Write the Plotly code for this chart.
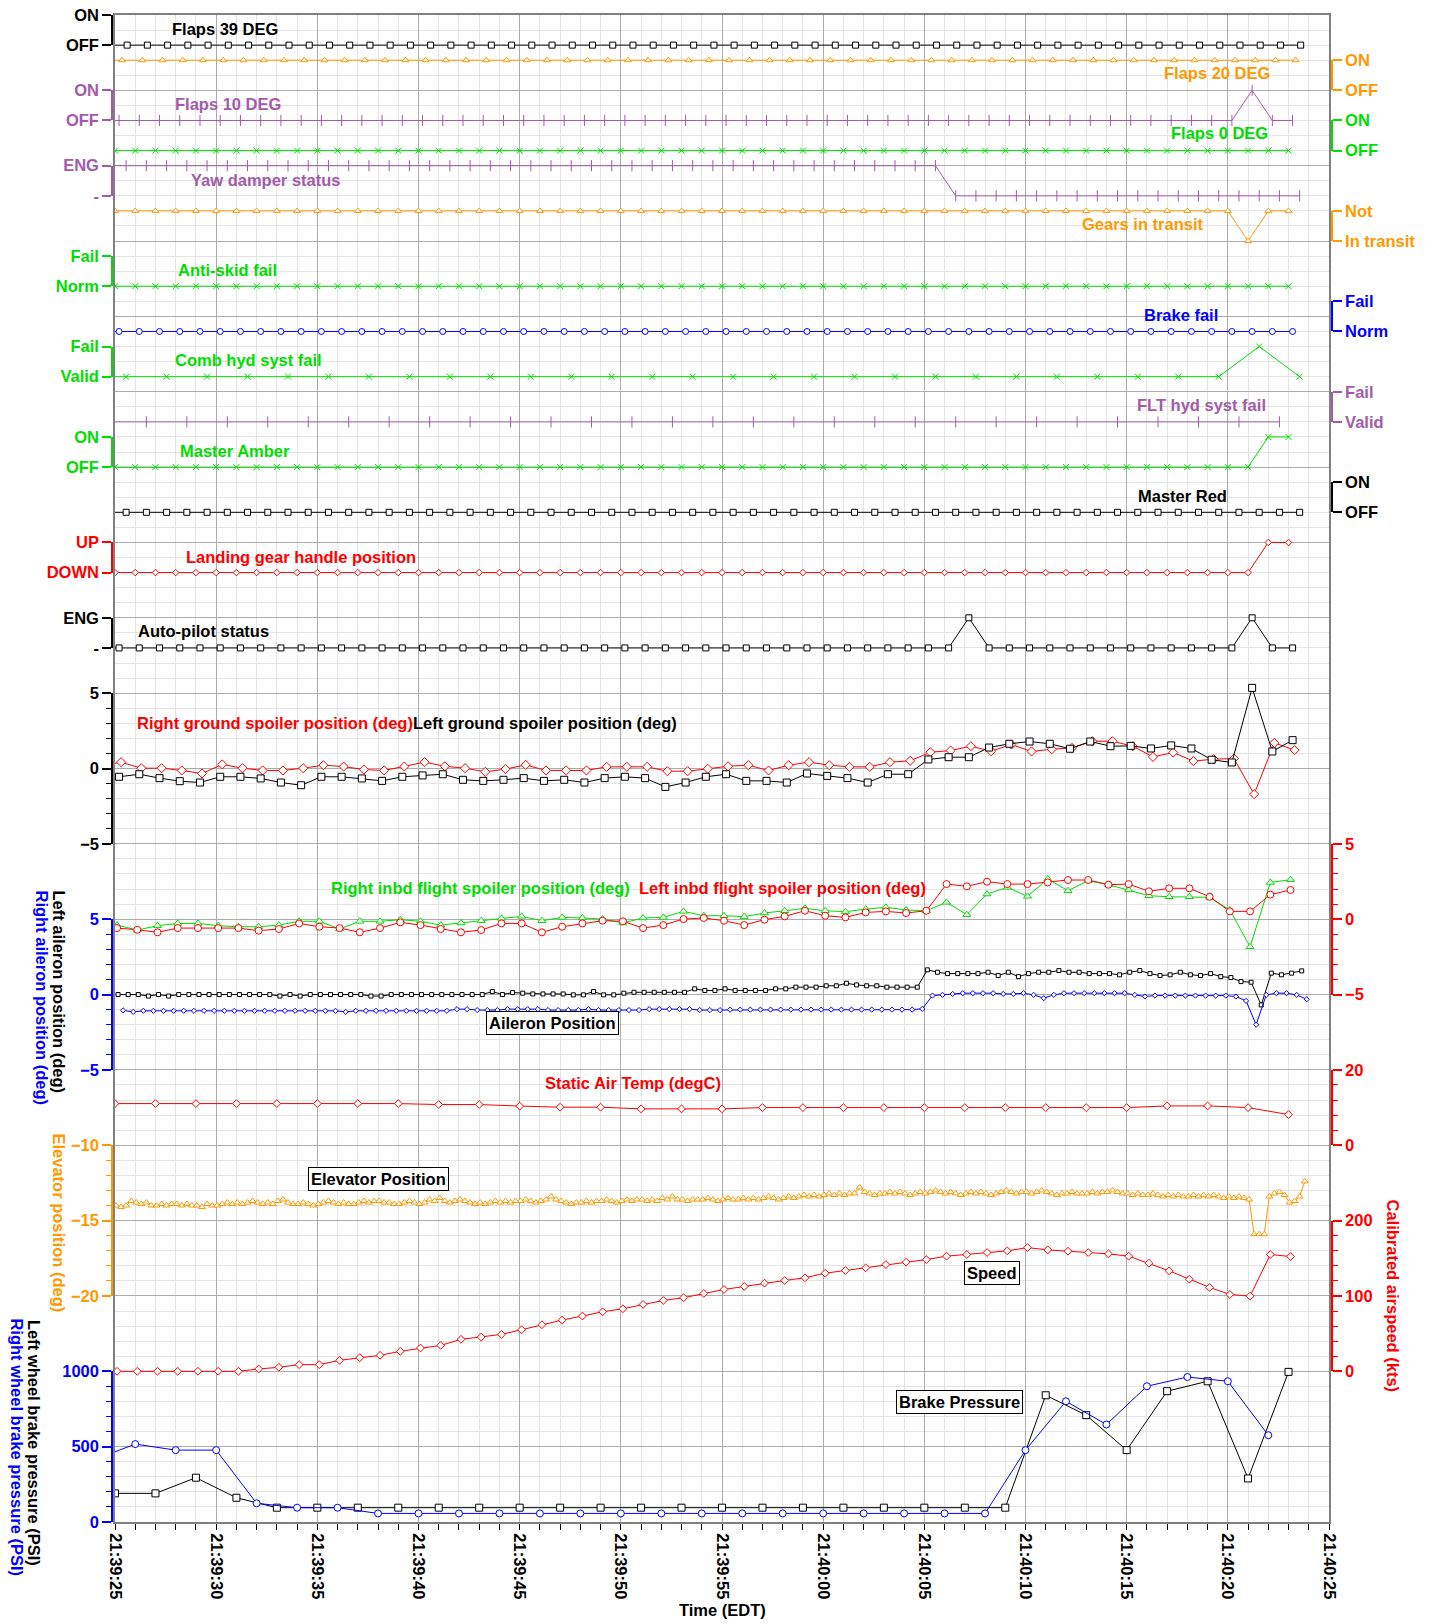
import plotly.graph_objects as go

# ------------------------------------------------------------------ data
TIME_TICKS = [0, 5, 10, 15, 20, 25, 30, 35, 40, 45, 50, 55, 60]
TIME_LABELS = ["21:39:25", "21:39:30", "21:39:35", "21:39:40", "21:39:45", "21:39:50",
               "21:39:55", "21:40:00", "21:40:05", "21:40:10", "21:40:15", "21:40:20", "21:40:25"]


def bits(s):
    return [int(c) for c in s if c in "01"]


def times(t0, n, dt=1.0):
    return [round(t0 + i * dt, 3) for i in range(n)]


# discrete signals (0 = lower state, 1 = upper state)
FLAPS39 = bits("0000000000 0000000000 0000000000 0000000000 0000000000 0000000000")
FLAPS20 = bits("1111111111 1111111111 1111111111 1111111111 1111111111 1111111111")
FLAPS10 = bits("0000000000 0000000000 0000000000 0000000000 0000000000 0000000100")
FLAPS0 = bits("0000000000 0000000000 0000000000 0000000000 0000000000 000000000")
YAW_DAMPER = bits("1111111111 1111111111 1111111111 1111111111 1100000000 0000000000")
GEARS_TRANSIT = bits("1111111111 1111111111 1111111111 1111111111 1111111111 111111011")
ANTI_SKID = bits("0000000000 0000000000 0000000000 0000000000 0000000000 000000000")
BRAKE_FAIL = bits("0000000000 0000000000 0000000000 0000000000 0000000000 0000000000")
COMB_HYD = bits("0000000000 0000000000 0000000001 0")
FLT_HYD = bits("0000000000 0000000000 0000000000")
MASTER_AMBER = bits("0000000000 0000000000 0000000000 0000000000 0000000000 000000011")
MASTER_RED = bits("0000000000 0000000000 0000000000 0000000000 0000000000 0000000000")
LANDING_GEAR = bits("0000000000 0000000000 0000000000 0000000000 0000000000 000000011")
AUTO_PILOT = bits("0000000000 0000000000 0000000000 0000000000 0001000000 0000000100")

# ground spoilers (deg)
R_GND_SPOILER = [0.15, 0.42, 0.02, 0.02, -0.13, -0.33, 0.27, 0.02, -0.13, -0.13, 0.02, 0.22, 0.13, -0.07,
                 -0.13, 0.13, 0.42, 0.15, 0.02, -0.22, -0.04, 0.24, -0.13, -0.13, -0.13, 0.11, 0.11, 0.11,
                 -0.18, -0.18, -0.02, 0.15, 0.22, -0.13, 0.22, 0.42, 0.22, 0.11, 0.11, 0.42, 0.51, 1.08,
                 1.19, 1.48, 1.15, 1.59, 1.13, 1.28, 1.37, 1.81, 1.81, 1.48, 0.77, 1.06, 0.49, 0.62, 0.66,
                 -1.70, 1.70, 1.22]
L_GND_SPOILER = [-0.45, -0.55, -0.38, -0.64, -0.84, -0.93, -0.55, -0.55, -0.66, -0.93, -1.11, -0.55, -0.55,
                 -0.66, -0.82, -0.55, -0.46, -0.38, -0.75, -0.82, -0.75, -0.64, -0.82, -0.75, -0.93, -0.64,
                 -0.55, -0.64, -1.22, -0.93, -0.55, -0.38, -0.82, -0.82, -0.93, -0.33, -0.49, -0.64, -0.93,
                 -0.38, -0.38, 0.60, 0.75, 0.75, 1.39, 1.64, 1.79, 1.64, 1.31, 1.79, 1.48, 1.50, 1.33, 1.53,
                 1.33, 0.58, 0.40, 5.35, 1.13, 1.88]

# inboard flight spoilers (deg)
R_INBD_SPOILER = [-0.39, -0.72, -0.43, -0.28, -0.28, -0.43, -0.50, -0.50, -0.39, -0.14, -0.14, -0.65, -0.14,
                  -0.14, -0.03, -0.14, -0.39, -0.25, -0.10, 0.06, 0.19, -0.10, 0.12, 0.08, 0.01, -0.25, 0.08,
                  0.12, 0.52, 0.23, 0.23, 0.17, 0.41, 0.56, 0.72, 0.56, 0.50, 0.67, 0.79, 0.61, 0.56, 1.12,
                  0.30, 1.67, 2.11, 1.52, 2.67, 1.89, 2.56, 2.29, 1.94, 1.56, 1.49, 1.49, 1.45, 0.61, -1.83,
                  2.44, 2.62]
L_INBD_SPOILER = [-0.59, -0.70, -0.87, -0.59, -0.59, -0.59, -0.59, -0.76, -0.65, -0.28, -0.50, -0.59, -0.87,
                  -0.59, -0.21, -0.39, -0.65, -0.87, -0.72, -0.28, -0.28, -0.87, -0.50, -0.28, -0.10, -0.14,
                  -0.59, -0.39, 0.01, 0.08, -0.10, -0.39, -0.03, 0.19, 0.56, 0.23, 0.12, 0.45, 0.52, 0.41,
                  0.56, 2.33, 2.18, 2.49, 2.33, 2.33, 2.44, 2.60, 2.60, 2.29, 2.33, 1.85, 2.05, 2.05, 1.49,
                  0.52, 0.52, 1.63, 1.94]

# ailerons (deg), 2 samples per second
L_AILERON = [0, 0, 0, -0.1, 0, -0.1, 0, 0, 0, 0, 0, 0, 0, 0, 0, 0, -0.1, 0, -0.1, 0, 0, 0, 0, 0, 0,
             -0.1, -0.1, 0, 0, 0, 0, 0, 0, 0, 0, 0, 0, 0.2, 0, 0.13, 0.09, 0.04, 0.04, 0.04, 0.04, -0.02,
             -0.02, 0.2, -0.02, -0.02, 0.09, 0.15, 0.15, 0.15, 0.15, 0.15, 0.15, 0.38, 0.27, 0.27,
             0.38, 0.27, 0.27, 0.27, 0.27, 0.38, 0.38, 0.49, 0.49, 0.49, 0.58, 0.58, 0.75, 0.64, 0.58,
             0.58, 0.49, 0.49, 0.49, 0.49, 1.64, 1.48, 1.39, 1.39, 1.39, 1.39, 1.48, 1.26, 1.48, 1.19,
             1.39, 1.48, 1.48, 1.59, 1.48, 1.48, 1.39, 1.39, 1.39, 1.31, 1.48, 1.59, 1.39, 1.26, 1.31,
             1.48, 1.31, 1.26, 1.39, 1.19, 1.13, 0.86, 0.82, -0.69, 1.42, 1.31, 1.42, 1.57]
R_AILERON = [-1.05, -1.15, -1.08, -1.08, -1.08, -1.08, -1.08, -1.08, -1.08, -1.08, -1.08, -1.08, -1.08,
             -1.08, -1.08, -1.08, -1.08, -1.08, -1.08, -1.08, -1.08, -1.08, -1.15, -1.08, -1.08, -1.08,
             -1.08, -1.08, -1.08, -1.08, -1.08, -1.08, -1.08, -0.97, -0.97, -1.03, -1.03, -1.03, -0.97,
             -0.97, -0.97, -0.97, -1.03, -1.03, -1.03, -1.03, -0.97, -1.03, -1.03, -1.03, -1.03, -1.03,
             -0.97, -0.97, -0.97, -0.97, -0.97, -1.03, -1.03, -1.03,
             -1.00, -1.00, -1.00, -1.00, -1.00, -1.00, -1.00, -1.00, -1.00, -1.00, -1.00, -1.00, -1.00,
             -1.00, -1.00, -1.00, -1.00, -1.00, -1.00, -0.95, -0.07, -0.02, 0.04, 0.09, 0.09, 0.09, 0.09,
             0.04, 0.04, 0.09, -0.02, -0.24, -0.02, 0.09, 0.09, 0.09, 0.09, 0.09, 0.09, 0.09, -0.02,
             -0.13, -0.07, -0.07, -0.07, -0.07, -0.07, -0.07, -0.07, -0.07, -0.13, -0.42, -2.00, -0.02,
             0.09, 0.09, -0.02, -0.31]

# static air temperature (degC), one sample every 2 s
STATIC_AIR_TEMP = [11.06, 11.06, 11.06, 11.06, 11.06, 11.06, 11.06, 11.06, 10.8, 10.8, 10.4, 10.1, 10.1,
                   9.65, 9.65, 9.65, 10.0, 10.0, 10.0, 10.0, 10.0, 10.0, 10.0, 10.0, 10.0, 10.0, 10.44,
                   10.44, 10.0, 8.14]

# elevator position (deg), 4 samples per second
ELEVATOR = [
    -14.0, -14.1, -14.0, -13.7, -13.8, -13.9, -13.8, -14.0, -14.0, -13.9, -14.0, -13.9,
    -13.9, -14.0, -13.9, -14.0, -14.0, -14.1, -13.9, -14.0, -14.0, -13.9, -13.8, -13.9,
    -13.8, -13.9, -13.8, -13.7, -13.8, -13.9, -13.8, -13.9, -13.7, -13.6, -13.8, -13.9,
    -13.9, -13.8, -13.9, -14.0, -13.9, -13.8, -13.7, -13.8, -13.9, -13.8, -13.9, -13.9,
    -13.8, -13.7, -13.8, -13.7, -13.7, -13.8, -13.8, -13.9, -13.9, -13.8, -13.7, -13.8,
    -13.9, -13.8, -13.6, -13.7, -13.5, -13.7, -13.8, -13.7, -13.6, -13.7, -13.8, -13.9,
    -13.8, -13.9, -13.8, -13.7, -13.8, -13.7, -13.8, -13.7, -13.7, -13.6, -13.7, -13.8,
    -13.7, -13.6, -13.4, -13.6, -13.7, -13.8, -13.9, -13.8, -13.8, -13.7, -13.8, -13.7,
    -13.7, -13.6, -13.7, -13.8, -13.7, -13.6, -13.7, -13.6, -13.6, -13.7, -13.6, -13.7,
    -13.5, -13.6, -13.4, -13.6, -13.6, -13.7, -13.6, -13.6, -13.6, -13.5, -13.6, -13.7,
    -13.6, -13.5, -13.6, -13.6, -13.5, -13.6, -13.5, -13.6, -13.5, -13.4, -13.5, -13.6,
    -13.5, -13.4, -13.5, -13.4, -13.3, -13.4, -13.3, -13.4, -13.3, -13.2, -13.3, -13.2,
    -13.3, -13.2, -13.2, -12.8, -13.1, -13.2, -13.3, -13.2, -13.2, -13.1, -13.2, -13.1,
    -13.2, -13.3, -13.2, -13.1, -13.2, -13.1, -13.0, -13.1, -13.2, -13.1, -13.2, -13.3,
    -13.2, -13.1, -13.2, -13.1, -13.2, -13.3, -13.2, -13.1, -13.0, -13.1, -13.2, -13.1,
    -13.1, -13.2, -13.1, -13.0, -13.1, -13.2, -13.3, -13.2, -13.2, -13.1, -13.2, -13.2,
    -13.2, -13.1, -13.2, -13.1, -13.1, -13.0, -13.1, -13.2, -13.2, -13.3, -13.2, -13.3,
    -13.3, -13.2, -13.3, -13.4, -13.3, -13.4, -13.3, -13.4, -13.4, -13.3, -13.4, -13.3,
    -13.4, -13.3, -13.4, -13.5, -13.4, -13.5, -13.4, -13.5, -13.6, -15.9, -15.9, -15.9,
    -13.4, -13.2, -13.1, -13.3, -13.8, -13.7, -13.4, -12.4]

# calibrated airspeed (kts)
AIRSPEED = [0, 0, 0, 0, 0, 0, 0, 3.1, 5.3, 8.8, 8.8, 14.6, 18.1, 21.2, 26.5, 30.9, 34.4, 42.4, 45.5,
            49.0, 55.2, 61.8, 68.0, 73.3, 79.0, 83.0, 88.7, 94.0, 97.6, 103.3, 108.6, 112.6, 117.0,
            120.5, 124.1, 130.2, 133.8, 137.3, 141.7, 144.8, 148.3, 152.8, 155.0, 157.6, 159.8, 164.2,
            161.1, 159.4, 157.6, 155.8, 152.8, 143.5, 133.3, 122.3, 111.3, 102.0, 99.8, 155.0, 152.3]

# wheel brake pressures (PSI), one sample every 2 s
L_BRAKE = [190, 190, 294, 161, 95, 95, 95, 95, 95, 95, 95, 95, 95, 95, 95, 95, 95, 95, 95, 95, 95, 95, 95,
           841, 709, 477, 868, 934, 289, 996]
R_BRAKE = [415, 517, 477, 477, 124, 95, 95, 57, 57, 57, 57, 57, 57, 57, 57, 57, 57, 57, 57, 57, 57, 57, 57,
           477, 801, 647, 901, 962, 934, 576]

# ------------------------------------------------------------------ style / geometry
FONT = "Liberation Sans"
FS = 16.5
BLACK, ORANGE, PURPLE, GREEN, BLUE, RED = "#000000", "#FF9900", "#A35AAD", "#00DD00", "#0000FF", "#FF0000"
MAJOR_GRID, MINOR_GRID, FRAME = "#ABABAB", "#E4E4E4", "#808080"

PAGE_OFF = 0                      # page body margin is removed (see post_script)
PLOT_TOP, PLOT_BOTTOM = 15, 1522  # page pixels of the plotting area
PAPER_L, PAPER_R = 112, 1332      # page pixels of the paper area (axis brackets)
PLOT_L, PLOT_R = 115, 1329
ML = PAPER_L - PAGE_OFF
MT = PLOT_TOP - PAGE_OFF
MR, MB = 98, 102
PW, PH = PAPER_R - PAPER_L, PLOT_BOTTOM - PLOT_TOP
W, H = ML + PW + MR, MT + PH + MB
XDOM = [(PLOT_L - PAPER_L) / PW, (PLOT_R - PAPER_L) / PW]


def paper_x(px):
    return (px - PAPER_L) / PW


def paper_y(py):
    return (PLOT_BOTTOM - py) / PH


def font(color, size=FS):
    return dict(family=FONT, size=size, color=color, weight="bold")


fig = go.Figure()
layout = {}
axis_no = [1]


def new_y(spec):
    axis_no[0] += 1
    spec["automargin"] = False
    layout["yaxis%d" % axis_no[0]] = spec
    return "y%d" % axis_no[0]


def data_axis(u0, per_unit):
    """invisible axis spanning the whole plot: value v sits on grid unit u0 + v*per_unit"""
    lo = (0 - u0) / per_unit
    hi = (100 - u0) / per_unit
    return new_y(dict(overlaying="y", range=[lo, hi], visible=False, showgrid=False,
                      zeroline=False, anchor="x"))


def label_axis(u0, per_unit, vlo, vhi, side, color, tickvals=None, ticktext=None,
               dtick=None, minor_dtick=None):
    d0 = max(0.0, round((u0 + vlo * per_unit) / 100, 6))
    d1 = min(1.0, round((u0 + vhi * per_unit) / 100, 6))
    spec = dict(domain=[d0, d1], range=[vlo, vhi], anchor="free",
                position=0 if side == "left" else 1, side=side,
                showline=True, linecolor=color, linewidth=1.5,
                ticks="outside", ticklen=9, tickwidth=1.5, tickcolor=color,
                tickfont=font(color), showgrid=False, zeroline=False,
                ticklabeloverflow="allow")
    if tickvals is not None:
        spec.update(tickmode="array", tickvals=tickvals, ticktext=ticktext)
    else:
        spec.update(tickmode="linear", tick0=vlo, dtick=dtick)
    if minor_dtick:
        spec["minor"] = dict(tickmode="linear", tick0=vlo, dtick=minor_dtick, ticks="outside",
                             ticklen=5, tickwidth=1, tickcolor=color, showgrid=False)
    name = new_y(spec)
    fig.add_trace(go.Scatter(x=[None], y=[None], xaxis="x2", yaxis=name, mode="markers",
                             showlegend=False, hoverinfo="skip"))
    return name


def add_series(t, v, ax, color, symbol, size=6):
    stroke_only = symbol in ("x-thin", "line-ns")
    marker = dict(symbol=symbol, size=size, color=color if stroke_only else "white",
                  line=dict(color=color, width=1))
    fig.add_trace(go.Scatter(x=t, y=v, xaxis="x", yaxis=ax, mode="lines+markers",
                             line=dict(color=color, width=1), marker=marker,
                             showlegend=False, hoverinfo="skip"))


annotations = []


def note(text, t, u, color, xanchor="left", box=False):
    a = dict(text=text, x=t, y=u, xref="x", yref="y", xanchor=xanchor, yanchor="middle",
             showarrow=False, font=font(color))
    if box:
        a.update(bordercolor="black", borderwidth=1, borderpad=2, bgcolor="white", xanchor="center")
    annotations.append(a)


def side_title(text, px, py_top, color):
    annotations.append(dict(text=text, x=paper_x(px), y=paper_y(py_top), xref="paper", yref="paper",
                            xanchor="center", yanchor="top", textangle=90, showarrow=False,
                            font=font(color)))


# dummy trace so the base (grid) subplot exists
fig.add_trace(go.Scatter(x=[None], y=[None], xaxis="x", yaxis="y", mode="markers",
                         showlegend=False, hoverinfo="skip"))

# ------------------------------------------------------------------ discrete signals
DISCRETE = [
    # states, t0, dt, grid unit of lower state, side, colour, marker, (low, high), label, label pos
    (FLAPS39, -0.4, 1, 98, "left", BLACK, "square", ("OFF", "ON"), "Flaps 39 DEG", (2.72, 99.1, "left")),
    (FLAPS20, -0.65, 1, 95, "right", ORANGE, "triangle-up", ("OFF", "ON"), "Flaps 20 DEG", (57.2, 96.15, "right")),
    (FLAPS10, -0.8, 1, 93, "left", PURPLE, "line-ns", ("OFF", "ON"), "Flaps 10 DEG", (2.85, 94.1, "left")),
    (FLAPS0, 0.0, 1, 91, "right", GREEN, "x-thin", ("OFF", "ON"), "Flaps 0 DEG", (57.1, 92.17, "right")),
    (YAW_DAMPER, -0.45, 1, 88, "left", PURPLE, "line-ns", ("-", "ENG"), "Yaw damper status", (3.66, 89.05, "left")),
    (GEARS_TRANSIT, 0.0, 1, 85, "right", ORANGE, "triangle-up", ("In transit", "Not"), "Gears in transit", (53.9, 86.13, "right")),
    (ANTI_SKID, 0.0, 1, 82, "left", GREEN, "x-thin", ("Norm", "Fail"), "Anti-skid fail", (3.0, 83.08, "left")),
    (BRAKE_FAIL, -0.8, 1, 79, "right", BLUE, "circle", ("Norm", "Fail"), "Brake fail", (54.6, 80.09, "right")),
    (COMB_HYD, -1.45, 2, 76, "left", GREEN, "x-thin", ("Valid", "Fail"), "Comb hyd syst fail", (2.88, 77.11, "left")),
    (FLT_HYD, -0.45, 2, 73, "right", PURPLE, "line-ns", ("Valid", "Fail"), "FLT hyd syst fail", (57.0, 74.12, "right")),
    (MASTER_AMBER, 0.0, 1, 70, "left", GREEN, "x-thin", ("OFF", "ON"), "Master Amber", (3.1, 71.07, "left")),
    (MASTER_RED, -0.45, 1, 67, "right", BLACK, "square", ("OFF", "ON"), "Master Red", (55.06, 68.08, "right")),
    (LANDING_GEAR, 0.0, 1, 63, "left", RED, "diamond", ("DOWN", "UP"), "Landing gear handle position", (3.41, 64.05, "left")),
    (AUTO_PILOT, -0.8, 1, 58, "left", BLACK, "square", ("-", "ENG"), "Auto-pilot status", (1.04, 59.14, "left")),
]

for states, t0, dt, u0, side, color, sym, labels, title, (lt, lu, la) in DISCRETE:
    label_axis(u0, 2, 0, 1, side, color, tickvals=[0, 1], ticktext=list(labels))
    ax = data_axis(u0, 2)
    size = 8 if sym == "line-ns" else (5 if sym == "diamond" else 6)
    add_series(times(t0, len(states), dt), states, ax, color, sym, size)
    note(title, lt, lu, color, la)

# ------------------------------------------------------------------ continuous signals
# ground spoilers: 0 deg on grid unit 50
label_axis(50, 1, -5, 5, "left", BLACK, dtick=5, minor_dtick=1)
ax = data_axis(50, 1)
add_series(times(-0.7, len(R_GND_SPOILER)), R_GND_SPOILER, ax, RED, "diamond", 7)
add_series(times(-0.8, len(L_GND_SPOILER)), L_GND_SPOILER, ax, BLACK, "square", 7)
note("<span style='color:#FF0000'>Right ground spoiler position (deg)</span>Left ground spoiler position (deg)",
     1.0, 53.04, BLACK)

# inboard flight spoilers: 0 deg on grid unit 40 (right axis)
label_axis(40, 1, -5, 5, "right", RED, dtick=5, minor_dtick=1)
ax = data_axis(40, 1)
add_series(times(0.1, len(R_INBD_SPOILER)), R_INBD_SPOILER, ax, GREEN, "triangle-up", 7)
add_series(times(0.1, len(L_INBD_SPOILER)), L_INBD_SPOILER, ax, RED, "circle", 7)
note("Right inbd flight spoiler position (deg)", 10.58, 42.07, GREEN)
note("Left inbd flight spoiler position (deg)", 25.8, 42.07, RED)

# ailerons: 0 deg on grid unit 35
label_axis(35, 1, -5, 5, "left", BLUE, dtick=5, minor_dtick=1)
ax = data_axis(35, 1)
add_series(times(0.15, len(L_AILERON), 0.5), L_AILERON, ax, BLACK, "square", 4)
add_series(times(0.4, len(R_AILERON), 0.5), R_AILERON, ax, BLUE, "diamond", 4)
note("Aileron Position", 21.6, 33.1, BLACK, box=True)

# static air temperature: 0 degC on unit 25, 20 degC on unit 30 (right axis)
label_axis(25, 0.25, 0, 20, "right", RED, dtick=20, minor_dtick=4)
ax = data_axis(25, 0.25)
add_series(times(0.0, len(STATIC_AIR_TEMP), 2), STATIC_AIR_TEMP, ax, RED, "diamond", 6)
note("Static Air Temp (degC)", 21.13, 29.13, RED)

# elevator: -10 deg on unit 25, -20 deg on unit 15
label_axis(35, 1, -20, -10, "left", ORANGE, dtick=5, minor_dtick=1)
ax = data_axis(35, 1)
add_series(times(0.05, len(ELEVATOR), 0.25), ELEVATOR, ax, ORANGE, "triangle-up", 6)
note("Elevator Position", 13.03, 22.74, BLACK, box=True)

# calibrated airspeed: 0 kts on unit 10, 100 kts per 5 units (right axis)
label_axis(10, 0.05, 0, 200, "right", RED, dtick=100, minor_dtick=20)
ax = data_axis(10, 0.05)
add_series(times(0.1, len(AIRSPEED)), AIRSPEED, ax, RED, "diamond", 6)
note("Speed", 43.35, 16.52, BLACK, box=True)

# brake pressures: 0 PSI on unit 0, 1000 PSI on unit 10
label_axis(0, 0.01, 0, 1000, "left", BLUE, dtick=500, minor_dtick=100)
ax = data_axis(0, 0.01)
add_series(times(0.0, len(L_BRAKE), 2), L_BRAKE, ax, BLACK, "square", 7)
add_series(times(-1.0, len(R_BRAKE), 2), R_BRAKE, ax, BLUE, "circle", 7)
note("Brake Pressure", 41.74, 7.98, BLACK, box=True)

# ------------------------------------------------------------------ titles
side_title("Left aileron position (deg)", 59, 888, BLACK)
side_title("Right aileron position (deg)", 41.5, 888, BLUE)
side_title("Elevator position (deg)", 59, 1131, ORANGE)
side_title("Left wheel brake pressure (PSI)", 34, 1318, BLACK)
side_title("Right wheel brake pressure (PSI)", 16.6, 1316, BLUE)
side_title("Calibrated airspeed (kts)", 1393, 1197, RED)
annotations.append(dict(text="Time (EDT)", x=paper_x(722), y=paper_y(1610), xref="paper", yref="paper",
                        xanchor="center", yanchor="middle", showarrow=False, font=font(BLACK)))

# ------------------------------------------------------------------ layout
layout.update(
    width=W, height=H, margin=dict(l=ML, r=MR, t=MT, b=MB, autoexpand=False),
    paper_bgcolor="white", plot_bgcolor="rgba(0,0,0,0)", showlegend=False,
    font=font(BLACK),
    xaxis=dict(domain=XDOM, range=[0, 60], tickmode="array", tickvals=TIME_TICKS, ticktext=TIME_LABELS,
               tickangle=90, ticks="outside", ticklen=6, tickwidth=1, tickcolor="black",
               tickfont=font(BLACK), showgrid=True, gridcolor=MAJOR_GRID, gridwidth=1,
               minor=dict(tickmode="linear", tick0=0, dtick=1, ticks="outside", ticklen=6, tickwidth=1,
                          tickcolor="black", showgrid=True, gridcolor=MINOR_GRID, gridwidth=1),
               showline=True, linecolor=FRAME, linewidth=2, mirror=True, zeroline=False, anchor="y",
               automargin=False, ticklabeloverflow="allow"),
    xaxis2=dict(domain=XDOM, range=[0, 60], visible=False, showgrid=False, zeroline=False, anchor="y",
                automargin=False),
    yaxis=dict(domain=[0, 1], range=[0, 100], tickmode="linear", tick0=0, dtick=5, showticklabels=False,
               ticks="", showgrid=True, gridcolor=MAJOR_GRID, gridwidth=1,
               minor=dict(tickmode="linear", tick0=0, dtick=1, showgrid=True, gridcolor=MINOR_GRID,
                          gridwidth=1),
               showline=True, linecolor=FRAME, linewidth=2, mirror=True, zeroline=False, anchor="x",
               automargin=False),
    annotations=annotations,
)
fig.update_layout(**layout)
fig.write_html("out.html", config={"displayModeBar": False},
               post_script="document.body.style.margin='0';")
